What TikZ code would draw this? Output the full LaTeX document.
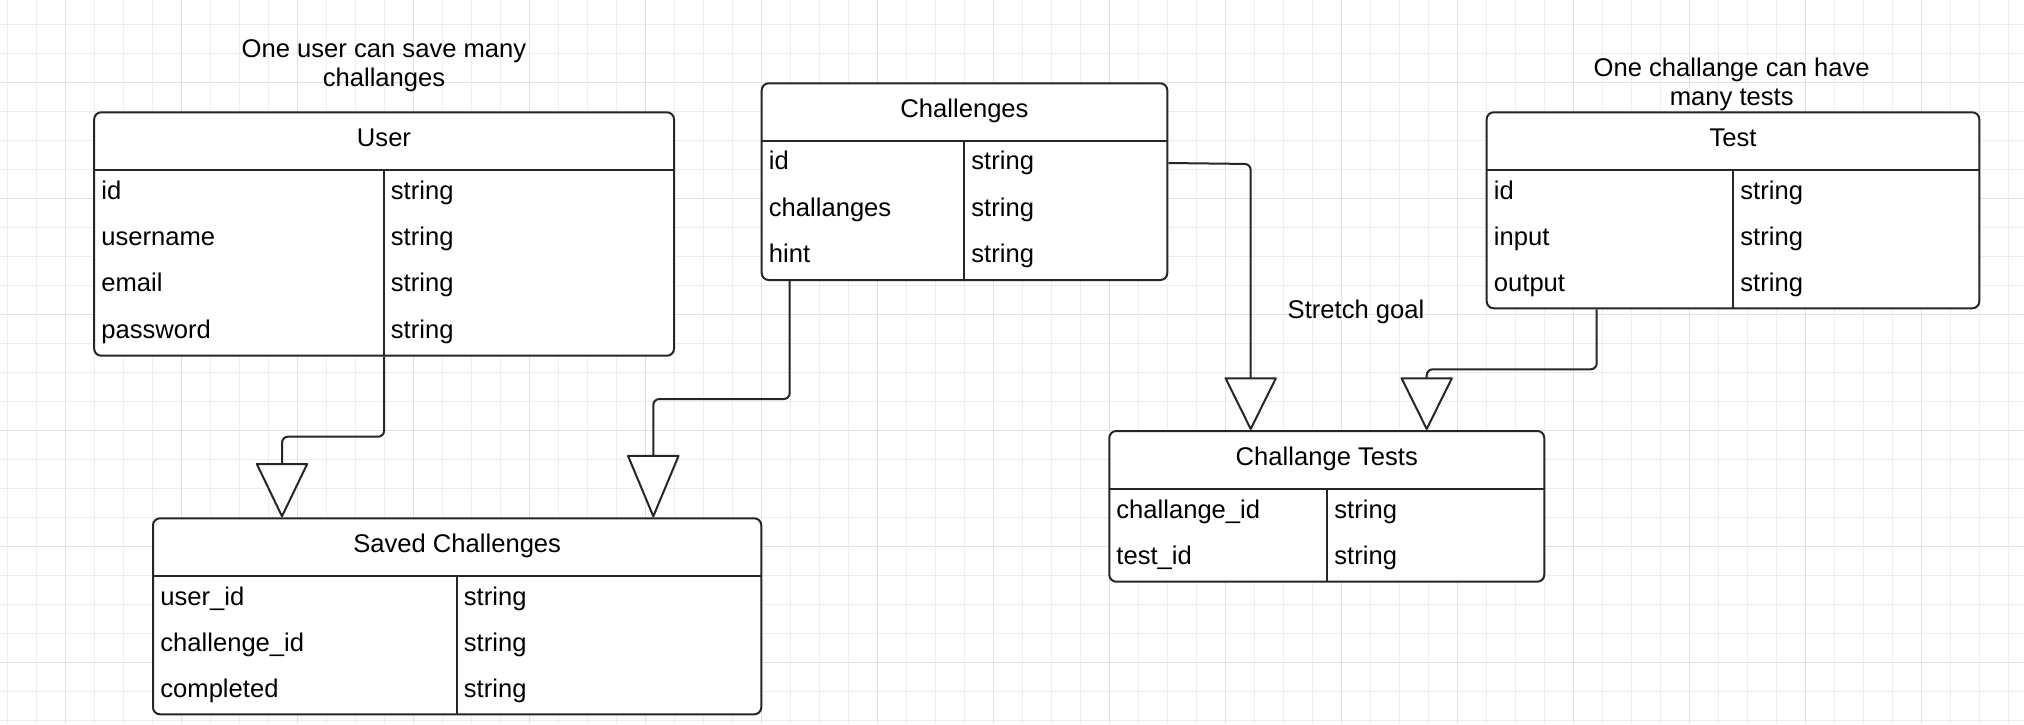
\documentclass[tikz,border=0pt]{standalone}
\usepackage{fontspec}
\setmainfont{Liberation Sans}
\usetikzlibrary{arrows.meta,fit,calc}
\begin{document}
\begin{tikzpicture}[x=0.5pt,y=-0.5pt,
  every node/.style={font=\fontsize{12.8}{14.5}\selectfont, inner sep=0pt},
  tbl/.style={draw=black!85, line width=1pt, rounded corners=3.5pt, fill=white, inner sep=0pt},
  rulez/.style={draw=black!85, line width=1pt},
  fld/.style={anchor=base west},
  ttl/.style={anchor=base},
  note/.style={align=center},
  conn/.style={draw=black!85, line width=1pt, rounded corners=3pt},
  tipA/.style={-{Triangle[width=26.5pt,length=#1,fill=white,round]}},
  gridminor/.style={draw=black!7, line width=0.5pt},
  gridmajor/.style={draw=black!12, line width=0.6pt},
]
\useasboundingbox (0,0) rectangle (2024,724);
\fill[white] (0,0) rectangle (2024,724);
% grid
\foreach \k in {0,...,69} { \pgfmathsetmacro\gx{7.3+29*\k} \draw[gridminor] (\gx,0) -- (\gx,724); }
\foreach \k in {0,...,24} { \pgfmathsetmacro\gy{24.3+29*\k} \draw[gridminor] (0,\gy) -- (2024,\gy); }
\foreach \k in {0,...,16} { \pgfmathsetmacro\gx{65.7+116*\k} \draw[gridmajor] (\gx,0) -- (\gx,724); }
\foreach \k in {0,...,5} { \pgfmathsetmacro\gy{82.3+116*\k} \draw[gridmajor] (0,\gy) -- (2024,\gy); }

% ---- User
\node[tbl, fit={(94.2,112.3) (674,355.7)}] (user) {};
\draw[rulez] (94.2,170) -- (674,170);
\draw[rulez] (384,170) -- (384,355.7);
\node[ttl] (userT) at (384,146.7) {User};
\node[fld] (u1) at (101,199) {id};
\node[fld] (u2) at (101,245.4) {username};
\node[fld] (u3) at (101,291.8) {email};
\node[fld] (u4) at (101,338.2) {password};
\node[fld] (u1t) at (390.5,199) {string};
\node[fld] (u2t) at (390.5,245.4) {string};
\node[fld] (u3t) at (390.5,291.8) {string};
\node[fld] (u4t) at (390.5,338.2) {string};
\node[note] (noteU) at (384,66.2) {One user can save many\\challanges};

% ---- Challenges
\node[tbl, fit={(761.7,83.3) (1167.3,280)}] (chal) {};
\draw[rulez] (761.7,140.7) -- (1167.3,140.7);
\draw[rulez] (964.3,140.7) -- (964.3,280);
\node[ttl] (chalT) at (964.5,117.7) {Challenges};
\node[fld] (c1) at (768.5,169.7) {id};
\node[fld] (c2) at (768.5,216) {challanges};
\node[fld] (c3) at (768.5,262.4) {hint};
\node[fld] (c1t) at (971,169.7) {string};
\node[fld] (c2t) at (971,216) {string};
\node[fld] (c3t) at (971,262.4) {string};

% ---- Test
\node[tbl, fit={(1486.7,112.3) (1979.3,308.3)}] (test) {};
\draw[rulez] (1486.7,170) -- (1979.3,170);
\draw[rulez] (1733.3,170) -- (1733.3,308.3);
\node[ttl] (testT) at (1733,146.7) {Test};
\node[fld] (t1) at (1493.5,199) {id};
\node[fld] (t2) at (1493.5,245.1) {input};
\node[fld] (t3) at (1493.5,291.2) {output};
\node[fld] (t1t) at (1740,199) {string};
\node[fld] (t2t) at (1740,245.1) {string};
\node[fld] (t3t) at (1740,291.2) {string};
\node[note] (noteT) at (1731.7,83.9) {One challange can have\\many tests};

% ---- Challange Tests
\node[tbl, fit={(1109.3,431) (1544.3,581.7)}] (ct) {};
\draw[rulez] (1109.3,489.3) -- (1544.3,489.3);
\draw[rulez] (1327,489.3) -- (1327,581.7);
\node[ttl] (ctT) at (1326.8,465.4) {Challange Tests};
\node[fld] (ct1) at (1116,518.3) {challange\_id};
\node[fld] (ct2) at (1116,564.5) {test\_id};
\node[fld] (ct1t) at (1334,518.3) {string};
\node[fld] (ct2t) at (1334,564.5) {string};
\node[ttl] (stretch) at (1356,318.3) {Stretch goal};

% ---- Saved Challenges
\node[tbl, fit={(153,518.3) (761.3,714.3)}] (saved) {};
\draw[rulez] (153,576) -- (761.3,576);
\draw[rulez] (456.7,576) -- (456.7,714.3);
\node[ttl] (savedT) at (457.2,552.7) {Saved Challenges};
\node[fld] (s1) at (160,605) {user\_id};
\node[fld] (s2) at (160,651.1) {challenge\_id};
\node[fld] (s3) at (160,697.2) {completed};
\node[fld] (s1t) at (463.5,605) {string};
\node[fld] (s2t) at (463.5,651.1) {string};
\node[fld] (s3t) at (463.5,697.2) {string};

% ---- connectors
\coordinate (e1) at (282,436.7);
\draw[conn, tipA=27.8pt] (user.south) |- (e1) -- (e1 |- saved.north);

\coordinate (s2a) at ($(chal.south west)+(29,0)$);
\coordinate (e2) at (653.3,399);
\draw[conn, tipA=32pt] (s2a) |- (e2) -- (e2 |- saved.north);

\coordinate (s3a) at ($(chal.north east)+(0,80.7)$);
\coordinate (e3) at (1250.7,164);
\draw[conn, tipA=27pt] (s3a) -- (e3) -- (e3 |- ct.north);

\coordinate (s4a) at ($(test.south west)+(111,0)$);
\coordinate (e4) at (1426.7,369.3);
\draw[conn, tipA=27pt] (s4a) |- (e4) -- (e4 |- ct.north);
\end{tikzpicture}
\end{document}
